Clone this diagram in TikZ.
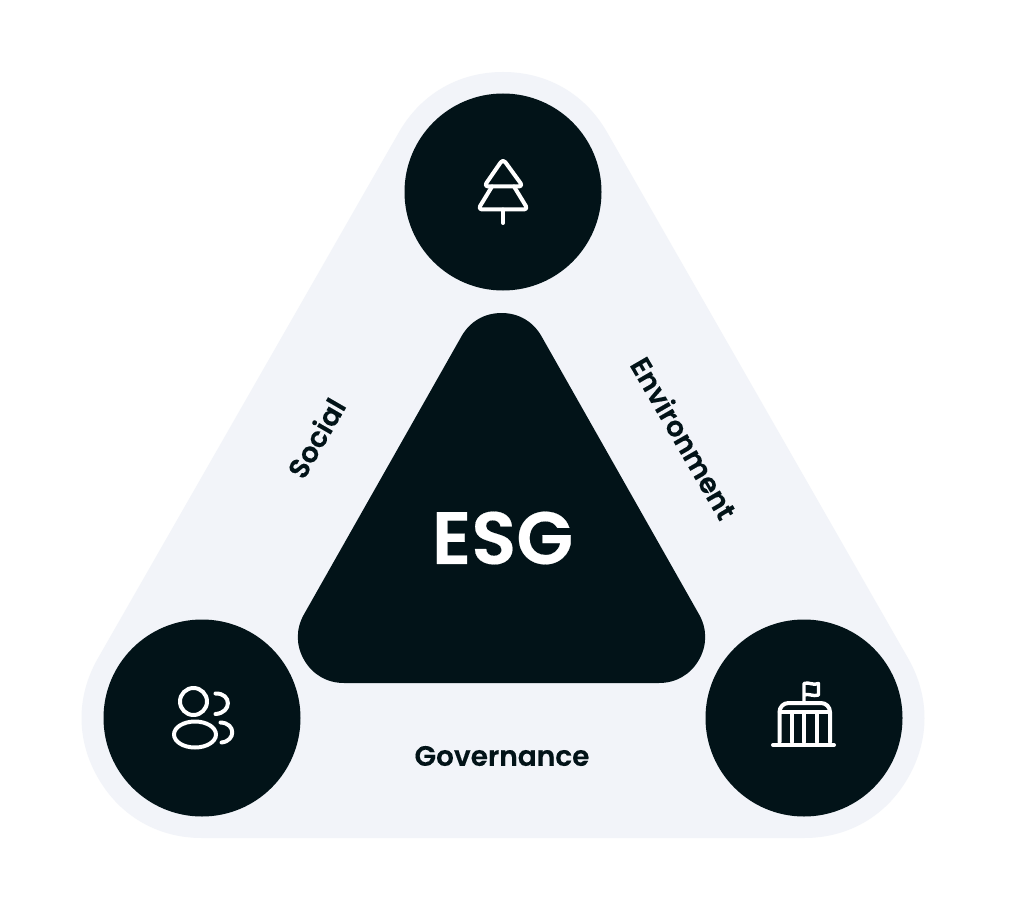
\documentclass[tikz,border=0pt]{standalone}
\usepackage{fontspec}
\setmainfont{Poppins}
\newfontfamily\labelfont[FakeBold=0.25]{Poppins SemiBold}
\definecolor{darkteal}{HTML}{021318}
\definecolor{lightgray}{HTML}{F2F4F9}
\tikzset{
  iconcircle/.style={circle, fill=darkteal, minimum size=197pt, inner sep=0pt, outer sep=0pt},
  sidelabel/.style={text=darkteal, font=\fontsize{28}{32}\labelfont, inner sep=0pt},
  iconline/.style={draw=white, line width=4pt, line cap=round, line join=round}
}
\begin{document}
\begin{tikzpicture}[x=1pt, y=-1pt]
  \useasboundingbox (0,0) rectangle (1011,909);
  \fill[white] (0,0) rectangle (1011,909);
  \draw[lightgray, fill=lightgray, line width=240pt, line join=round]
    (503,192) -- (804,718) -- (202,718) -- cycle;
  \draw[darkteal, fill=darkteal, line width=92pt, line join=round]
    (501.5,359) -- (659,637) -- (344,637) -- cycle;
  \node[iconcircle] (environment) at (503,192) {};
  \node[iconcircle] (social) at (202,718) {};
  \node[iconcircle] (governance) at (804,718) {};
  \node[text=white, font=\fontsize{74}{84}\labelfont, inner sep=0pt] (esg) at (502.5,538) {ESG};
  \node[sidelabel, rotate=60] (sociallabel) at (316,438) {Social};
  \node[sidelabel, rotate=-60] (environmentlabel) at (684,438) {Environment};
  \node[sidelabel] (governancelabel) at (502,756) {Governance};

  \draw[iconline, rounded corners=4pt] (503,159) -- (523,186.5) -- (484,186.5) -- cycle;
  \draw[iconline, rounded corners=4pt] (492,186.5) -- (478,209.5) -- (528,209.5) -- (514,186.5);
  \draw[iconline] (503,209.5) -- (503,223);

  \draw[iconline] (193.5,701.5) circle (13.5pt);
  \draw[iconline] (195,734.5) ellipse (21pt and 13pt);
  \draw[iconline] (215.5,693.5) .. controls (232,693) and (232,713) .. (215.5,714);
  \draw[iconline] (220.5,722.5) .. controls (236,723) and (236,741) .. (221.5,742.5);

  \draw[iconline, line width=3.4pt] (804,701) -- (804,683.5)
    .. controls (809,681.5) and (813,686) .. (818.5,683.5) -- (818.5,695)
    .. controls (813,697) and (809,693) .. (804,695);
  \draw[iconline, rounded corners=9pt] (779.5,742) -- (779.5,703) -- (830,703) -- (830,742);
  \draw[iconline, line width=3.4pt] (779.5,712) -- (830,712);
  \foreach \colx in {791.7,804.3,816.9}
    \draw[iconline] (\colx,712) -- (\colx,742);
  \draw[iconline] (773,745) -- (834,745);
\end{tikzpicture}
\end{document}
